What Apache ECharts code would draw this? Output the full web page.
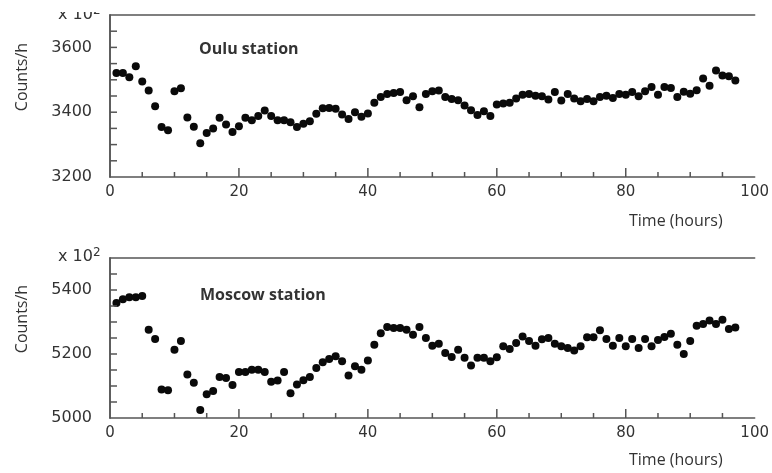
<!DOCTYPE html>
<html>
<head>
<meta charset="utf-8">
<script src="https://cdn.jsdelivr.net/npm/echarts@6/dist/echarts.min.js"></script>
<style>
html,body{margin:0;padding:0;background:#fff;}
#chart{width:772px;height:473px;}
</style>
</head>
<body>
<div id="chart"></div>
<script>
// Hours of observation
const hours = [1,2,3,4,5,6,7,8,9,10,11,12,13,14,15,16,17,18,19,20,21,22,23,24,25,26,27,28,29,30,31,32,33,34,35,36,37,38,39,40,41,42,43,44,45,46,47,48,49,50,51,52,53,54,55,56,57,58,59,60,61,62,63,64,65,66,67,68,69,70,71,72,73,74,75,76,77,78,79,80,81,82,83,84,85,86,87,88,89,90,91,92,93,94,95,96,97];

// Oulu station, counts/h (x 10^2)
const ouluCounts = [3521,3521,3508,3542,3495,3467,3418,3354,3344,3465,3474,3384,3355,3304,3336,3350,3383,3362,3339,3357,3383,3375,3388,3405,3388,3375,3375,3369,3354,3364,3372,3395,3412,3413,3411,3393,3379,3400,3386,3396,3429,3447,3456,3459,3462,3437,3449,3415,3456,3465,3467,3447,3441,3437,3421,3406,3391,3403,3388,3424,3427,3429,3442,3454,3456,3451,3449,3439,3462,3436,3456,3442,3434,3441,3434,3447,3451,3444,3456,3454,3462,3449,3465,3478,3454,3478,3475,3447,3463,3457,3468,3504,3482,3529,3513,3511,3498];

// Moscow station, counts/h (x 10^2)
const moscowCounts = [5359,5371,5377,5377,5381,5276,5247,5089,5087,5213,5241,5136,5110,5025,5074,5084,5128,5125,5103,5144,5144,5151,5151,5144,5113,5117,5144,5077,5105,5118,5128,5156,5174,5184,5193,5177,5133,5162,5151,5180,5229,5265,5284,5281,5281,5276,5260,5284,5250,5226,5232,5203,5191,5213,5188,5164,5188,5188,5177,5190,5224,5216,5234,5255,5241,5226,5246,5250,5232,5224,5219,5211,5224,5252,5252,5274,5247,5226,5250,5224,5247,5219,5247,5224,5244,5253,5263,5229,5200,5241,5288,5294,5305,5294,5307,5278,5283];

// Axis ranges / tick positions (axis values)
const xRange = [0, 100];
const ouluRange = [3200, 3700];
const moscowRange = [5000, 5500];
const xLabelStep = 20;
const yLabelStep = 200;
const xMajorTicks = [20,40,60,80];
const xMinorTicks = [5,10,15,25,30,35,45,50,55,65,70,75,85,90,95];
const ouluTicks = [3250,3300,3350,3400,3450,3500,3550,3600,3650];
const moscowTicks = [5050,5100,5150,5200,5250,5300,5350,5400,5450];

const chart = echarts.init(document.getElementById('chart'));
const frame = '#555';
const txt = '#333';
const ls = () => ({color:frame, width:1.5});

function xMain(gi){
  return {
    type:'value', gridIndex:gi, position:'bottom', min:xRange[0], max:xRange[1], interval:xLabelStep,
    axisLine:{show:true, lineStyle:ls()}, axisTick:{show:false}, splitLine:{show:false},
    axisLabel:{color:txt, fontFamily:'DejaVu Sans', fontSize:15, margin:8, formatter:v=>String(v)}
  };
}
function yMain(gi, r){
  return {
    type:'value', gridIndex:gi, position:'left', min:r[0], max:r[1], interval:yLabelStep,
    name:'Counts/h', nameLocation:'middle', nameRotate:90, nameGap:80,
    nameTextStyle:{color:txt, fontFamily:'Open Sans', fontSize:16, padding:[0,0,0,38]},
    axisLine:{show:true, lineStyle:ls()}, axisTick:{show:false}, splitLine:{show:false},
    axisLabel:{color:txt, fontFamily:'DejaVu Sans', fontSize:16, margin:18, showMaxLabel:false,
      formatter:v=>String(v)}
  };
}
function xTop(gi){
  return {
    type:'value', gridIndex:gi, position:'top', min:xRange[0], max:xRange[1],
    axisLine:{show:true, lineStyle:ls()},
    axisTick:{show:false}, axisLabel:{show:false}, splitLine:{show:false}
  };
}
function yRight(gi, r){
  return {
    type:'value', gridIndex:gi, position:'right', min:r[0], max:r[1],
    axisLine:{show:true, lineStyle:ls()},
    axisTick:{show:false}, axisLabel:{show:false}, splitLine:{show:false}
  };
}

// inward tick marks drawn through the axes' own scales
function xTickSeries(xi, yi, vals, yBase, len){
  return {
    type:'custom', xAxisIndex:xi, yAxisIndex:yi, silent:true, clip:false, z:5,
    data: vals.map(v=>[v, yBase]),
    renderItem:(params, api)=>{
      const p = api.coord([api.value(0), api.value(1)]);
      return {type:'line', shape:{x1:p[0], y1:p[1], x2:p[0], y2:p[1]-len},
              style:{stroke:frame, lineWidth:1.5}};
    }
  };
}
function yTickSeries(xi, yi, vals, len){
  return {
    type:'custom', xAxisIndex:xi, yAxisIndex:yi, silent:true, clip:false, z:5,
    data: vals.map(v=>[xRange[0], v]),
    renderItem:(params, api)=>{
      const p = api.coord([api.value(0), api.value(1)]);
      return {type:'line', shape:{x1:p[0], y1:p[1], x2:p[0]+len, y2:p[1]},
              style:{stroke:frame, lineWidth:1.5}};
    }
  };
}

function label(text, left, top, style){
  return {text, left, top, padding:0, itemGap:0,
    textStyle:Object.assign({color:txt, fontFamily:'Open Sans', fontSize:16, fontWeight:'normal'}, style||{})};
}
const expStyle = {fontFamily:'DejaVu Sans', fontSize:16,
  rich:{s:{fontFamily:'DejaVu Sans', fontSize:12, color:txt, verticalAlign:'top', padding:[0,0,8,0]}}};

const option = {
  animation:false,
  title:[
    label('Oulu station', 199, 41, {fontWeight:'bold'}),
    label('Moscow station', 200, 287, {fontWeight:'bold'}),
    label('Time (hours)', 629, 213),
    label('Time (hours)', 629, 452),
    label('x 10{s|2}', 58, 247, expStyle),
    label('x 10{s|2}', 58, 5, expStyle),
    {text:' ', left:0, top:0, z:20, padding:[6,54,5,54], backgroundColor:'#fff',
     textStyle:{fontSize:1, lineHeight:1}}
  ],
  grid:[
    {left:110, top:15, width:647, height:162},
    {left:110, top:258, width:647, height:160}
  ],
  xAxis:[xMain(0), xTop(0), xMain(1), xTop(1)],
  yAxis:[yMain(0,ouluRange), yRight(0,ouluRange), yMain(1,moscowRange), yRight(1,moscowRange)],
  series:[
    {type:'scatter', xAxisIndex:0, yAxisIndex:0, symbolSize:8, itemStyle:{color:'#0a0a0a', opacity:1},
     data:hours.map((h,i)=>[h, ouluCounts[i]])},
    {type:'scatter', xAxisIndex:2, yAxisIndex:2, symbolSize:8, itemStyle:{color:'#0a0a0a', opacity:1},
     data:hours.map((h,i)=>[h, moscowCounts[i]])},
    xTickSeries(0, 0, xMajorTicks, ouluRange[0], 9),
    xTickSeries(0, 0, xMinorTicks, ouluRange[0], 5),
    yTickSeries(0, 0, ouluTicks, 7),
    xTickSeries(2, 2, xMajorTicks, moscowRange[0], 9),
    xTickSeries(2, 2, xMinorTicks, moscowRange[0], 5),
    yTickSeries(2, 2, moscowTicks, 7)
  ]
};
chart.setOption(option);
</script>
</body>
</html>
